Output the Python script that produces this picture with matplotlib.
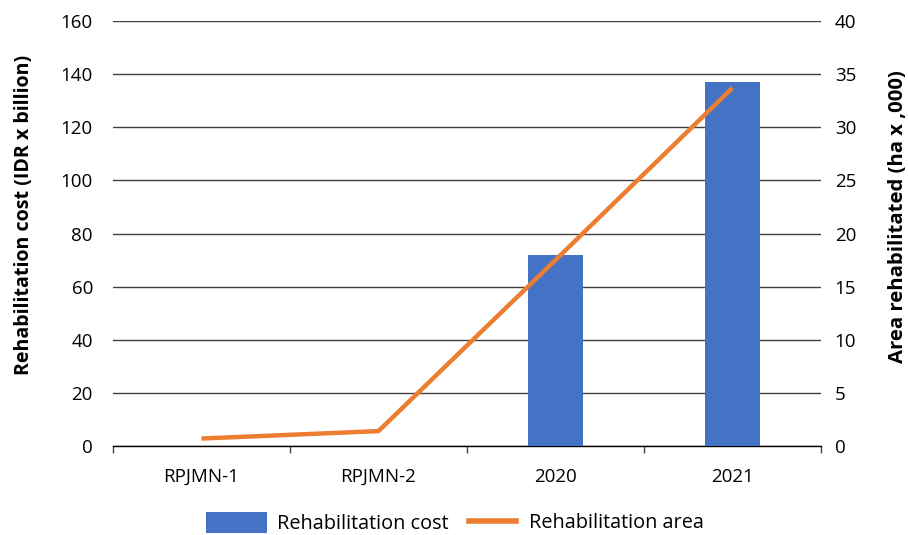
import matplotlib
matplotlib.use("Agg")
import matplotlib.pyplot as plt
from matplotlib.patches import Patch
from matplotlib.lines import Line2D

categories = ["RPJMN-1", "RPJMN-2", "2020", "2021"]
cost_values = [0, 0, 72, 137]          # IDR x billion
area_values = [0.7, 1.4, 17.5, 33.7]   # ha x 1,000
left_ticks = [0, 20, 40, 60, 80, 100, 120, 140, 160]
right_ticks = [0, 5, 10, 15, 20, 25, 30, 35, 40]

BLUE = "#4472C4"
ORANGE = "#ED7D31"

plt.rcParams['font.family'] = ['Open Sans', 'DejaVu Sans']

fig = plt.figure(figsize=(9.08, 5.35), dpi=100)
ax = fig.add_axes([0.1245, 0.1664, 0.7795, 0.7943])
ax2 = ax.twinx()

x = list(range(len(categories)))
ax.bar(x, cost_values, width=0.31, color=BLUE, zorder=3)
ax2.plot(x, area_values, color=ORANGE, linewidth=3.2, solid_capstyle='butt', zorder=4)

ax.set_ylim(0, 160)
ax2.set_ylim(0, 40)
ax.set_xlim(-0.5, len(categories) - 0.5)
ax.set_yticks(left_ticks)
ax2.set_yticks(right_ticks)
ax.grid(axis='y', color='#404040', linewidth=1.0, zorder=0)
ax.set_axisbelow(True)

for a in (ax, ax2):
    for s in ('top', 'left', 'right'):
        a.spines[s].set_visible(False)
ax2.spines['bottom'].set_visible(False)
ax.spines['bottom'].set_color('black')
ax.spines['bottom'].set_linewidth(1.0)

ax.tick_params(axis='y', length=0, labelsize=13.5, pad=14.5, colors='black')
ax2.tick_params(axis='y', length=0, labelsize=13.5, pad=10, colors='black')

ax.set_xticks([i - 0.5 for i in range(len(categories) + 1)])
ax.set_xticklabels([])
ax.tick_params(axis='x', which='major', length=5, width=1, color='#444444', direction='out')
ax.set_xticks(x, minor=True)
ax.set_xticklabels(categories, minor=True)
ax.tick_params(axis='x', which='minor', length=0, labelsize=13.5, pad=16)

ax.set_ylabel("Rehabilitation cost (IDR x billion)", fontsize=14.1, fontweight='bold')
ax2.set_ylabel("Area rehabilitated (ha x ,000)", fontsize=14.6, fontweight='bold')
ax.yaxis.set_label_coords(-0.111, 0.5435)
ax2.yaxis.set_label_coords(1.0955, 0.539)

leg1 = fig.legend(handles=[Patch(facecolor=BLUE, edgecolor='none')],
                  labels=["Rehabilitation cost"], loc='center left',
                  bbox_to_anchor=(0.207, 0.022), frameon=False, fontsize=14.3,
                  handlelength=3.07, handleheight=1.25, handletextpad=0.5)
leg2 = fig.legend(handles=[Line2D([0], [0], color=ORANGE, linewidth=4)],
                  labels=["Rehabilitation area"], loc='center left',
                  bbox_to_anchor=(0.497, 0.022), frameon=False, fontsize=14.3,
                  handlelength=2.36, handletextpad=0.65)

fig.savefig("out.png", dpi=100)
